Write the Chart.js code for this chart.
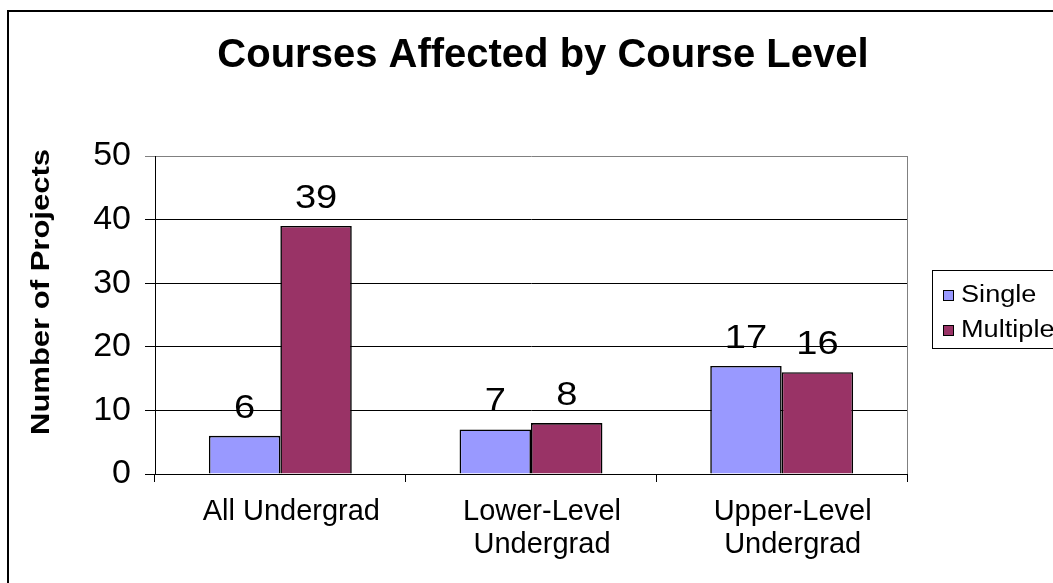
<!DOCTYPE html>
<html>
<head>
<meta charset="utf-8">
<script src="https://cdn.jsdelivr.net/npm/chart.js@4.4.1/dist/chart.umd.min.js"></script>
<style>
  html, body { margin: 0; padding: 0; background: #fff; }
  #wrap { position: relative; width: 1053px; height: 583px; }
</style>
</head>
<body>
<div id="wrap"><canvas id="c"></canvas></div>
<script>
const TITLE = 'Courses Affected by Course Level';
const Y_TITLE = 'Number of Projects';
const categories = [['All Undergrad'], ['Lower-Level', 'Undergrad'], ['Upper-Level', 'Undergrad']];
const seriesNames = ['Single', 'Multiple'];
const singleValues = [6, 7, 17];
const multipleValues = [39, 8, 16];
const seriesColors = ['#9999FF', '#993366'];
const yMin = 0, yMax = 50, yStep = 10;

const FONT = "'Liberation Sans', Arial, sans-serif";

const frame = {
  id: 'frame',
  beforeDraw(chart) {
    const ctx = chart.ctx;
    ctx.save();
    ctx.fillStyle = '#fff';
    ctx.fillRect(0, 0, chart.width, chart.height);
    ctx.strokeStyle = '#000';
    ctx.lineWidth = 2;
    ctx.beginPath();
    ctx.moveTo(8, chart.height + 2);
    ctx.lineTo(8, 11);
    ctx.lineTo(chart.width + 2, 11);
    ctx.stroke();
    // title
    ctx.fillStyle = '#000';
    ctx.font = 'bold 40px ' + FONT;
    ctx.textAlign = 'center';
    ctx.textBaseline = 'middle';
    ctx.fillText(TITLE, 543, 56);
    ctx.restore();
  },
  afterDraw(chart) {
    const ctx = chart.ctx;
    const a = chart.chartArea;
    ctx.save();
    // right border of plot area
    ctx.strokeStyle = '#808080';
    ctx.lineWidth = 1;
    ctx.beginPath();
    ctx.moveTo(Math.round(a.right) + 0.5, a.top);
    ctx.lineTo(Math.round(a.right) + 0.5, a.bottom);
    ctx.stroke();
    // y title
    ctx.fillStyle = '#000';
    ctx.font = 'bold 25px ' + FONT;
    ctx.textAlign = 'center';
    ctx.textBaseline = 'middle';
    ctx.translate(42, 292);
    ctx.rotate(-Math.PI / 2);
    ctx.scale(1.24, 1);
    ctx.fillText(Y_TITLE, 0, 0);
    ctx.restore();

    // legend
    ctx.save();
    const lx = 932, ly = 270, lh = 78;
    ctx.strokeStyle = '#000';
    ctx.lineWidth = 1;
    ctx.strokeRect(lx + 0.5, ly + 0.5, 200, lh);
    ctx.font = '23px ' + FONT;
    ctx.textBaseline = 'middle';
    ctx.textAlign = 'left';
    chart.data.datasets.forEach((ds, i) => {
      const cy = 296 + i * 35;
      ctx.fillStyle = ds.backgroundColor;
      ctx.fillRect(943, cy - 5, 10, 10);
      ctx.strokeStyle = '#000';
      ctx.strokeRect(943.5, cy - 5.5, 10, 10);
      ctx.fillStyle = '#000';
      ctx.save();
      ctx.translate(961, cy);
      ctx.scale(1.18, 1);
      ctx.fillText(ds.label, 0, 0);
      ctx.restore();
    });
    ctx.restore();
  },
  afterDatasetsDraw(chart) {
    const ctx = chart.ctx;
    ctx.save();
    ctx.fillStyle = '#000';
    ctx.font = '34px ' + FONT;
    ctx.textAlign = 'center';
    ctx.textBaseline = 'alphabetic';
    chart.data.datasets.forEach((ds, di) => {
      const meta = chart.getDatasetMeta(di);
      meta.data.forEach((bar, i) => {
        ctx.save();
        ctx.translate(bar.x, bar.y - 18);
        ctx.scale(1.12, 1);
        ctx.fillText(String(ds.data[i]), 0, 0);
        ctx.restore();
      });
    });
    ctx.restore();
  }
};

new Chart(document.getElementById('c'), {
  type: 'bar',
  data: {
    labels: categories,
    datasets: [
      { label: seriesNames[0], data: singleValues, backgroundColor: seriesColors[0], borderColor: '#000', borderWidth: 1.6, categoryPercentage: 0.57, barPercentage: 1.0 },
      { label: seriesNames[1], data: multipleValues, backgroundColor: seriesColors[1], borderColor: '#000', borderWidth: 1.6, categoryPercentage: 0.57, barPercentage: 1.0 }
    ]
  },
  options: {
    responsive: true,
    maintainAspectRatio: false,
    animation: false,
    layout: { padding: { left: 0, right: 146, top: 156, bottom: 0 } },
    plugins: {
      legend: { display: false },
      tooltip: { enabled: false },
      title: { display: false }
    },
    scales: {
      x: {
        grid: { drawOnChartArea: false, drawTicks: true, tickLength: 8, color: '#000', offset: true },
        border: { color: '#000', width: 1 },
        ticks: { color: '#000', font: { family: FONT, size: 29, lineHeight: 1.12 }, padding: 14, labelOffset: 11, maxRotation: 0, autoSkip: false },
        afterFit(scale) { scale.height = 109; }
      },
      y: {
        min: yMin, max: yMax,
        grid: {
          color: (c) => (c.tick && c.tick.value === yMax ? '#808080' : '#000'),
          tickLength: 10, drawTicks: true
        },
        border: { color: '#000', width: 1 },
        ticks: { stepSize: yStep, color: '#000', font: { family: FONT, size: 34 }, padding: 14 },
        afterFit(scale) { scale.width = 155; }
      }
    }
  },
  plugins: [frame]
});
</script>
</body>
</html>
